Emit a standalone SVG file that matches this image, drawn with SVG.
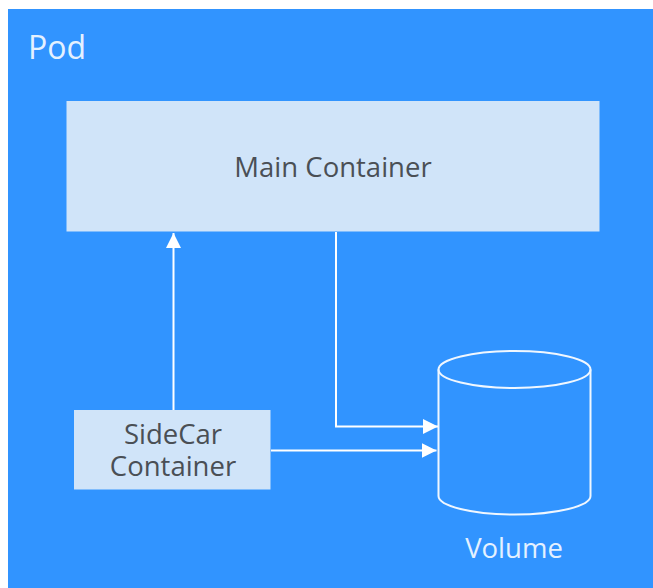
<svg xmlns="http://www.w3.org/2000/svg" width="653" height="588" viewBox="0 0 653 588">
<style>
.box{fill:#d0e4f9}
.dark{font-family:"Open Sans","Liberation Sans",sans-serif;fill:#4a4f55;font-size:27.500px;text-anchor:middle}
.light{font-family:"Open Sans","Liberation Sans",sans-serif;fill:#e4f1ff;text-anchor:middle}
.conn{fill:none;stroke:#fff;stroke-width:2}
.cyl{fill:none;stroke:#f0f7ff;stroke-width:2}
</style>
<defs>
<marker id="arrow" markerUnits="userSpaceOnUse" markerWidth="16" markerHeight="16" refX="15" refY="7.500" orient="auto">
<path d="M0 0L15 7.500L0 15Z" fill="#fff"/>
</marker>
</defs>
<rect width="653" height="588" fill="#fff"/>
<g id="pod">
<rect x="8" y="9" width="645" height="579" fill="#3194ff"/>
<text x="28" y="59" class="light" style="text-anchor:start" font-size="32">Pod</text>
</g>
<g id="main-container">
<rect class="box" x="66.500" y="101" width="533" height="130.500"/>
<text x="333" y="177" class="dark">Main Container</text>
</g>
<g id="sidecar-container">
<rect class="box" x="74" y="410" width="196.500" height="79.500"/>
<text x="173" y="444" class="dark">SideCar</text>
<text x="173" y="476" class="dark">Container</text>
</g>
<g id="volume">
<ellipse class="cyl" cx="514.500" cy="369.500" rx="76" ry="18.500"/>
<path class="cyl" d="M438.500 369.500V496C438.500 506 472 514.500 514.500 514.500S590.500 506 590.500 496V369.500"/>
<text x="514" y="558" class="light" font-size="27.500">Volume</text>
</g>
<g id="connectors">
<path class="conn" d="M173.500 410V233" marker-end="url(#arrow)"/>
<path class="conn" d="M336 232V426.500H438" marker-end="url(#arrow)"/>
<path class="conn" d="M271 450.500H436.500" marker-end="url(#arrow)"/>
</g>
</svg>
